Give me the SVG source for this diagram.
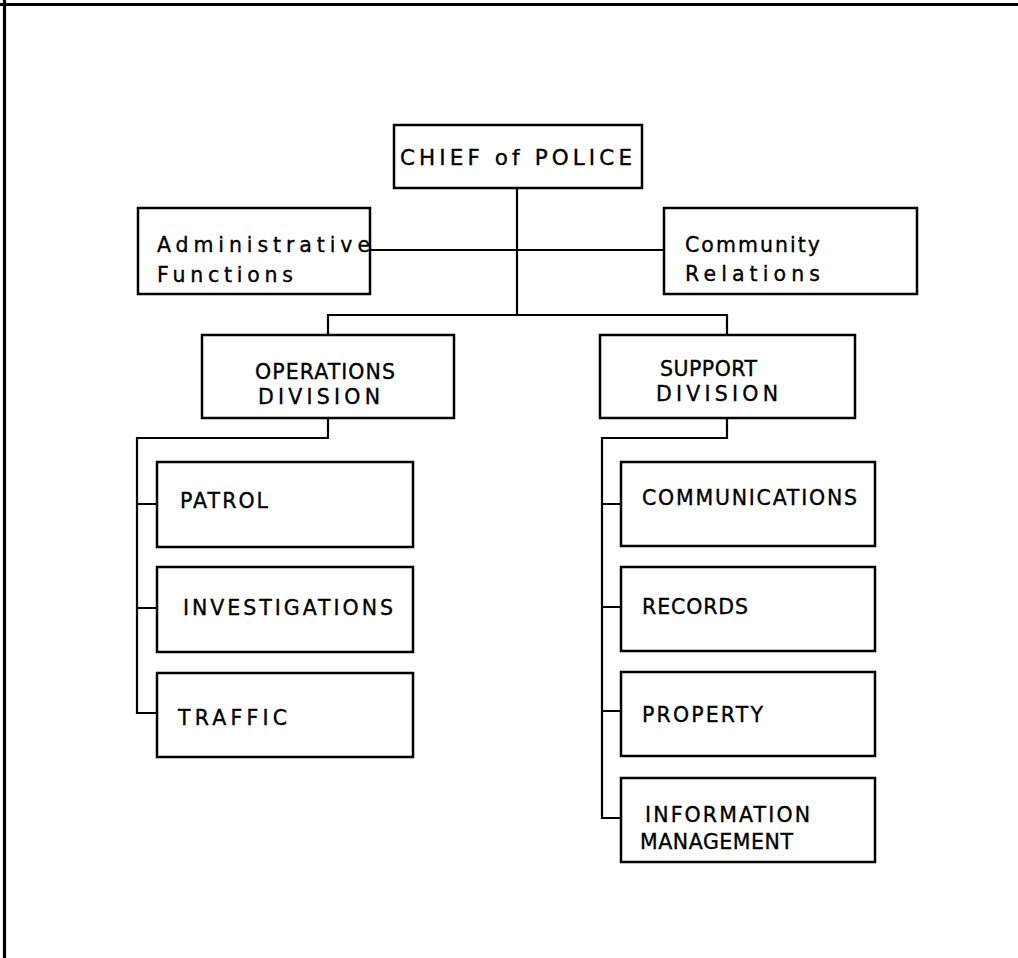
<svg xmlns="http://www.w3.org/2000/svg" width="1018" height="958" viewBox="0 0 1018 958">
<style>
.box{fill:#fff;stroke:#000;stroke-width:2.5}
.c{fill:none;stroke:#000;stroke-width:2.2}
text{font-family:"DejaVu Sans","Liberation Sans",sans-serif;font-size:20.5px;fill:#000;stroke:#000;stroke-width:0.35}
.big{font-size:21.5px}
</style>
<rect width="1018" height="958" fill="#fff"/>
<path d="M0 4.5H1018M4.5 0V958" fill="none" stroke="#000" stroke-width="3.2"/>
<g id="connectors">
<path class="c" d="M517 188V315M370 250H664M328 335V315H727V335"/>
<path class="c" d="M328 418V438H137V713H157M137 504H157M137 608H157"/>
<path class="c" d="M727 418V438H602V818H621M602 504H621M602 607H621M602 711H621"/>
</g>
<g id="chief"><rect class="box" x="394" y="125" width="248" height="63"/><text class="big" x="400" y="165" textLength="232" lengthAdjust="spacing">CHIEF of POLICE</text></g>
<g id="admin"><rect class="box" x="138" y="208" width="232" height="86"/><text x="157" y="252" textLength="213" lengthAdjust="spacing">Administrative</text><text x="157" y="282" textLength="136" lengthAdjust="spacing">Functions</text></g>
<g id="community"><rect class="box" x="664" y="208" width="253" height="86"/><text x="685" y="252" textLength="135" lengthAdjust="spacing">Community</text><text x="685" y="281" textLength="135" lengthAdjust="spacing">Relations</text></g>
<g id="operations"><rect class="box" x="202" y="335" width="252" height="83"/><text x="255" y="379" textLength="140" lengthAdjust="spacing">OPERATIONS</text><text x="258" y="404" textLength="122" lengthAdjust="spacing">DIVISION</text></g>
<g id="support"><rect class="box" x="600" y="335" width="255" height="83"/><text x="660" y="376" textLength="97" lengthAdjust="spacing">SUPPORT</text><text x="656" y="401" textLength="122" lengthAdjust="spacing">DIVISION</text></g>
<g id="patrol"><rect class="box" x="157" y="462" width="256" height="85"/><text x="180" y="508" textLength="88" lengthAdjust="spacing">PATROL</text></g>
<g id="investigations"><rect class="box" x="157" y="567" width="256" height="85"/><text x="183" y="615" textLength="210" lengthAdjust="spacing">INVESTIGATIONS</text></g>
<g id="traffic"><rect class="box" x="157" y="673" width="256" height="84"/><text x="178" y="725" textLength="109" lengthAdjust="spacing">TRAFFIC</text></g>
<g id="communications"><rect class="box" x="621" y="462" width="254" height="84"/><text x="642" y="505" textLength="215" lengthAdjust="spacing">COMMUNICATIONS</text></g>
<g id="records"><rect class="box" x="621" y="567" width="254" height="84"/><text x="642" y="614" textLength="106" lengthAdjust="spacing">RECORDS</text></g>
<g id="property"><rect class="box" x="621" y="672" width="254" height="84"/><text x="642" y="722" textLength="121" lengthAdjust="spacing">PROPERTY</text></g>
<g id="information"><rect class="box" x="621" y="778" width="254" height="84"/><text x="645" y="822" textLength="165" lengthAdjust="spacing">INFORMATION</text><text x="640" y="849" textLength="153" lengthAdjust="spacing">MANAGEMENT</text></g>
</svg>
